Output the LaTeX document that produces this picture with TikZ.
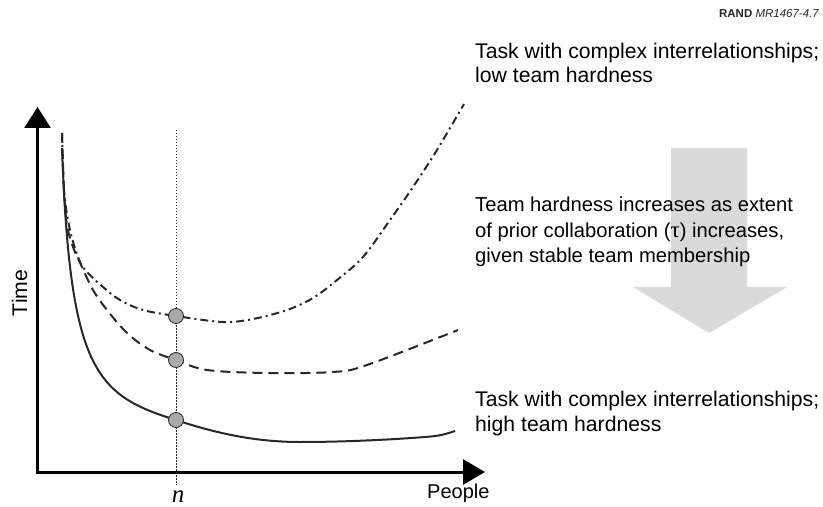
\documentclass[tikz,border=0pt]{standalone}
\usepackage{fontspec}
\setmainfont{Liberation Sans}
\newfontfamily\seriffont{Liberation Serif}
\usetikzlibrary{arrows.meta}
\definecolor{dotgray}{RGB}{170,170,170}
\definecolor{arrowgray}{RGB}{218,218,218}
\definecolor{inkgray}{RGB}{40,40,40}
\begin{document}
\begin{tikzpicture}[x=1bp,y=-1bp,
  lbl/.style={font=\fontsize{21.2bp}{24bp}\selectfont, anchor=base west, inner sep=0},
  midlbl/.style={lbl, font=\fontsize{20.2bp}{24bp}\selectfont},
  curve/.style={line width=2bp, draw=inkgray, line join=round},
  dashcurve/.style={curve, dash pattern=on 10bp off 6bp},
  dashdotcurve/.style={curve, dash pattern=on 8bp off 4bp on 2bp off 4bp},
  marker/.style={circle, fill=dotgray, draw=inkgray, line width=0.8bp, minimum size=15bp, inner sep=0},
  axis/.style={line width=3bp, line join=miter, {Triangle[length=21bp,width=26bp]}-{Triangle[length=22bp,width=25bp]}},
  guide/.style={line width=1bp, draw=inkgray, dash pattern=on 1.5bp off 1.5bp},
  bigarrow/.style={fill=arrowgray, draw=none}]
\useasboundingbox (0,0) rectangle (823,507);

% big gray arrow
\fill[bigarrow] (671,148) -- (747,148) -- (747,287) -- (787,287) -- (709,333) -- (633,287) -- (671,287) -- cycle;

% axes
\coordinate (ytip) at (37.5,107);
\coordinate (xtip) at (485,472);
\draw[axis] (ytip) |- (xtip);

% guide line at n
\coordinate (gtop) at (176,130);
\coordinate (gbot) at (176,485);
\draw[guide] (gtop) -- (gbot);

% curves
\draw[dashdotcurve] plot[smooth, tension=0.55] coordinates {(62,133) (64,190) (70,230) (80,262) (90,275) (103,287) (120,300) (143,310) (176,316) (223,322) (253,319) (287,310) (313,298) (337,280) (363,257) (390,220) (413,187) (437,150) (464,104)};
\draw[dashcurve] plot[smooth, tension=0.55] coordinates {(62,133) (64,190) (67,225) (73,247) (82,267) (93,290) (107,310) (127,333) (150,350) (176,360) (207,370) (267,373) (333,372) (367,365) (458,330)};
\draw[curve] (62,148) .. controls (70,370) and (95,395) .. (176,420)
  .. controls (215,433) and (255,442) .. (300,442)
  .. controls (350,442) and (400,439) .. (425,437)
  .. controls (440,436) and (446,434) .. (455,431);

% markers
\node[marker] (m1) at (176,316) {};
\node[marker] (m2) at (176,360) {};
\node[marker] (m3) at (176,420) {};

% labels
\node[font=\fontsize{11.5bp}{13bp}\selectfont, text=inkgray, anchor=base east, inner sep=0] (rand) at (819,18) {\bfseries RAND \mdseries\itshape MR1467-4.7};
\node[lbl] (low1) at (475,59) {Task with complex interrelationships;};
\node[lbl] (low2) at (475,83) {low team hardness};
\node[midlbl] (mid1) at (475,212) {Team hardness increases as extent};
\node[midlbl] (mid2) at (475,237.5) {of prior collaboration ({\seriffont\fontsize{23bp}{24bp}\selectfont τ}) increases,};
\node[midlbl] (mid3) at (475,263) {given stable team membership};
\node[lbl] (high1) at (475,406) {Task with complex interrelationships;};
\node[lbl] (high2) at (475,431) {high team hardness};
\node[lbl, anchor=base, rotate=90] (time) at (27,293) {Time};
\node[lbl, font=\fontsize{20bp}{24bp}\selectfont] (people) at (427,498) {People};
\node[font=\seriffont\itshape\fontsize{25bp}{26bp}\selectfont, anchor=base, inner sep=0] (nlab) at (178,502) {n};
\end{tikzpicture}
\end{document}
